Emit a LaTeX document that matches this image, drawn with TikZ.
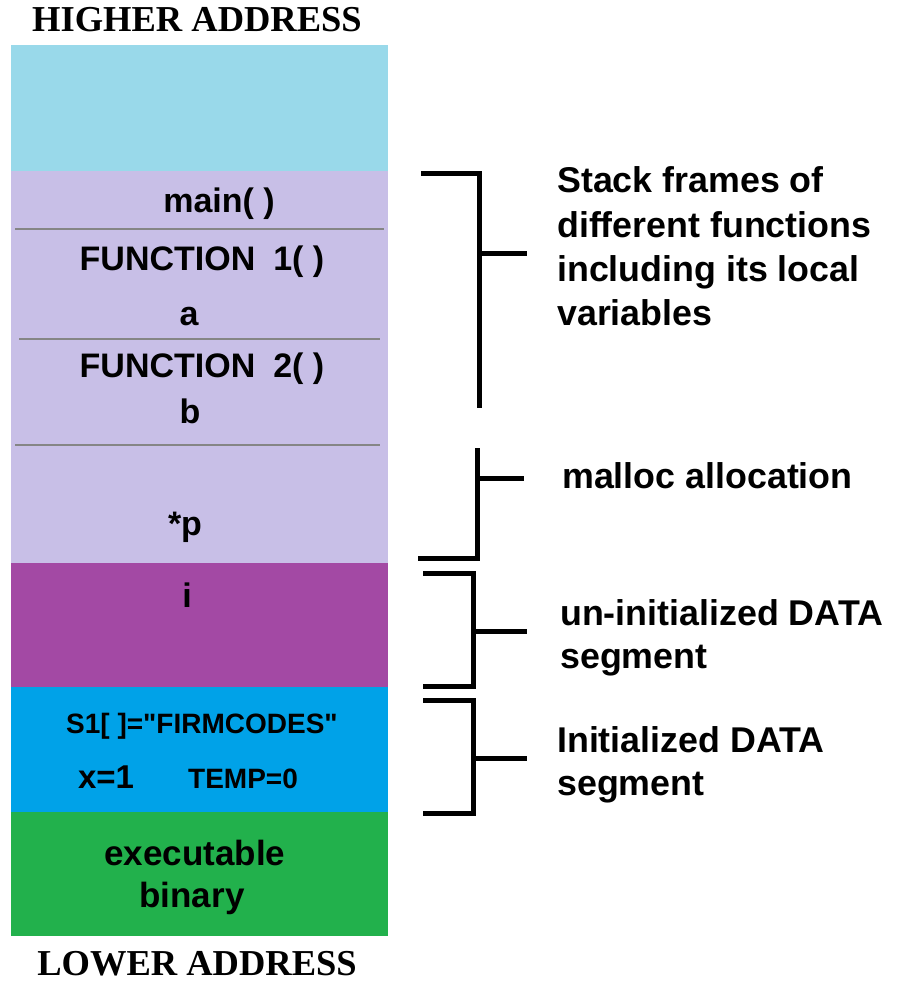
\documentclass[tikz,border=0pt]{standalone}
\usepackage{fontspec}
\setmainfont{Liberation Sans}
\newfontfamily\titlefont{Liberation Serif}
\definecolor{topcyan}{HTML}{99D9EA}
\definecolor{stacklav}{HTML}{C8BFE7}
\definecolor{bsspurple}{HTML}{A349A4}
\definecolor{datablue}{HTML}{00A2E8}
\definecolor{textgreen}{HTML}{22B14C}
\definecolor{sepgray}{HTML}{858585}
\tikzset{
  title/.style={anchor=base,inner sep=0pt,font=\titlefont\bfseries\fontsize{36.5}{40}\selectfont},
  boxtext/.style={anchor=base,inner sep=0pt,font=\bfseries\fontsize{34}{42}\selectfont},
  label/.style={anchor=base west,inner sep=0pt,font=\bfseries\fontsize{35.8}{44}\selectfont},
  sepline/.style={draw=sepgray,line width=1.8pt},
  bracket/.style={draw=black,line width=5pt,line cap=butt,line join=miter}
}
\begin{document}
\begin{tikzpicture}[x=1pt,y=-1pt]
\useasboundingbox (0,0) rectangle (897,981);
% memory blocks
\fill[topcyan]   (11,45)  rectangle (388,171);
\fill[stacklav]  (11,171) rectangle (388,563);
\fill[bsspurple] (11,563) rectangle (388,687);
\fill[datablue]  (11,687) rectangle (388,812);
\fill[textgreen] (11,812) rectangle (388,936);
% separators in stack
\draw[sepline] (15,229) -- (384,229);
\draw[sepline] (19,339) -- (380,339);
\draw[sepline] (15,445) -- (380,445);
% titles
\node[title] (hi) at (197,32) {HIGHER ADDRESS};
\node[title] (lo) at (197,975) {LOWER ADDRESS};
% box texts
\node[boxtext] (mainf) at (219,213) {main( )};
\node[boxtext] (f1) at (202,270) {FUNCTION\hspace{0.25em} 1( )};
\node[boxtext] (va) at (189,325) {a};
\node[boxtext] (f2) at (202,377) {FUNCTION\hspace{0.25em} 2( )};
\node[boxtext] (vb) at (190,423) {b};
\node[boxtext] (vp) at (185,535) {*p};
\node[boxtext] (vi) at (187,607) {i};
\node[boxtext,font=\bfseries\fontsize{28}{34}\selectfont] (s1) at (202,733) {S1[ ]=\textquotedbl FIRMCODES\textquotedbl};
\node[boxtext,font=\bfseries\fontsize{33}{38}\selectfont] (vx) at (106,788) {x=1};
\node[boxtext,font=\bfseries\fontsize{28}{32}\selectfont] (vt) at (243,788) {TEMP=0};
\node[boxtext,font=\bfseries\fontsize{35}{42}\selectfont] (ex1) at (195,865) {executable};
\node[boxtext,font=\bfseries\fontsize{35}{42}\selectfont] (ex2) at (192,907) {binary};
% brackets
\draw[bracket] (421,173.5) -- (479,173.5) -- (479,408);
\draw[bracket] (479,254) -- (527,254);
\draw[bracket] (477,448) -- (477,558) -- (418,558);
\draw[bracket] (477,478) -- (524,478);
\draw[bracket] (423,573) -- (473,573) -- (473,686) -- (423,686);
\draw[bracket] (473,631) -- (527,631);
\draw[bracket] (423,700) -- (473,700) -- (473,813) -- (423,813);
\draw[bracket] (473,758) -- (527,758);
% labels
\node[label] (l1a) at (557,193) {Stack frames of};
\node[label] (l1b) at (557,238) {different functions};
\node[label] (l1c) at (557,282) {including its local};
\node[label] (l1d) at (557,325) {variables};
\node[label] (l2) at (562,488) {malloc allocation};
\node[label] (l3a) at (560,625) {un-initialized DATA};
\node[label] (l3b) at (560,668) {segment};
\node[label] (l4a) at (557,752) {Initialized DATA};
\node[label] (l4b) at (557,795) {segment};
\end{tikzpicture}
\end{document}
